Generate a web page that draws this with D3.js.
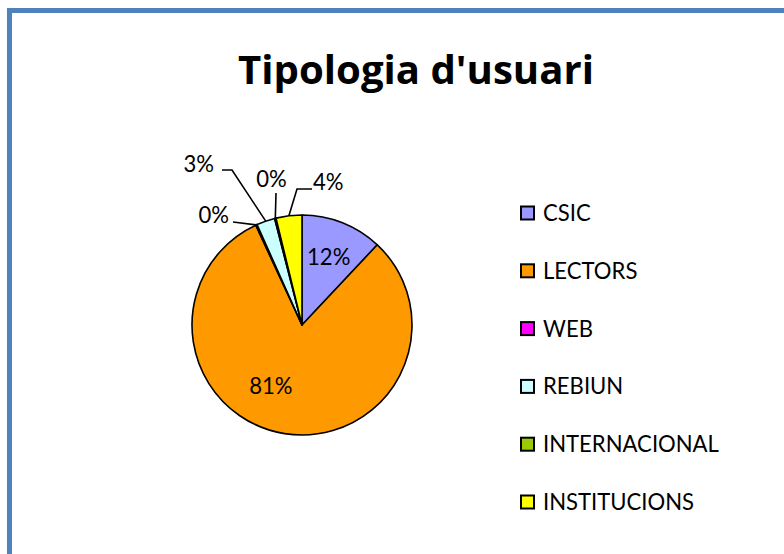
<!DOCTYPE html>
<html>
<head>
<meta charset="utf-8">
<script src="https://cdn.jsdelivr.net/npm/d3@7"></script>
<style>
  html, body { margin: 0; padding: 0; background: #fff; }
  svg { display: block; }
  text { font-family: Lato, "Open Sans", sans-serif; fill: #000; }
</style>
</head>
<body>
<svg id="chart" width="784" height="554"></svg>
<script>
// ---- data ----
const categories = ["CSIC", "LECTORS", "WEB", "REBIUN", "INTERNACIONAL", "INSTITUCIONS"];
const values = [12.0, 81.1, 0.2, 2.7, 0.2, 3.8];
const colors = ["#9999FF", "#FF9900", "#FF00FF", "#CCFFFF", "#99CC00", "#FFFF00"];
const title = "Tipologia d'usuari";

// ---- layout (positions of labels only) ----
const W = 784, H = 554;
const cx = 302, cy = 325, R = 110;
const labelLayout = [
  { type: "in", rf: 0.66, da: 0 },
  { type: "in", rf: 0.62, da: 18 },
  { type: "out", x: 229, y: 222.5, anchor: "end", elbow: [233, 222] },
  { type: "out", x: 214, y: 171.5, anchor: "end", elbow: [232, 170], tail: [222, 170] },
  { type: "out", x: 271.5, y: 186.5, anchor: "middle", elbow: [276, 193] },
  { type: "out", x: 313, y: 190, anchor: "start", elbow: [297, 189], tail: [312, 189] }
];

const svg = d3.select("#chart");

// frame
svg.append("rect")
  .attr("x", 9.5).attr("y", 10.5)
  .attr("width", W + 20).attr("height", H + 20)
  .attr("fill", "#fff")
  .attr("stroke", "#4F81BD")
  .attr("stroke-width", 5);

// helper: fit font size to a target width
function fit(sel, target) {
  const base = +sel.attr("font-size");
  const w = sel.node().getComputedTextLength();
  if (w > 0) sel.attr("font-size", base * target / w);
  return +sel.attr("font-size");
}

// title
const t = svg.append("text")
  .attr("x", 416).attr("y", 84)
  .attr("text-anchor", "middle")
  .attr("font-size", 40)
  .attr("font-weight", "bold")
  .style("font-family", "'Open Sans', Lato, sans-serif")
  .text(title);
fit(t, 356);

// legend font sizing from the longest label
const probe = svg.append("text").attr("font-size", 21).text("INTERNACIONAL");
const fs = fit(probe, 176);
probe.remove();

const pie = d3.pie().sort(null).value(d => d);
const arcs = pie(values);
const arc = d3.arc().innerRadius(0).outerRadius(R);

const g = svg.append("g").attr("transform", `translate(${cx},${cy})`);
g.selectAll("path.slice")
  .data(arcs)
  .join("path")
  .attr("class", "slice")
  .attr("d", arc)
  .attr("fill", (d, i) => colors[i])
  .attr("stroke", "#000")
  .attr("stroke-width", 1.6)
  .attr("stroke-linejoin", "round");

const fmt = v => Math.round(v) + "%";

arcs.forEach((d, i) => {
  const L = labelLayout[i];
  const mid = (d.startAngle + d.endAngle) / 2;
  if (L.type === "in") {
    const a = mid + L.da * Math.PI / 180;
    const r = R * L.rf;
    g.append("text")
      .attr("x", r * Math.sin(a))
      .attr("y", -r * Math.cos(a))
      .attr("dy", "0.36em")
      .attr("text-anchor", "middle")
      .attr("font-size", fs)
      .text(fmt(d.value));
  } else {
    const px = cx + R * Math.sin(mid), py = cy - R * Math.cos(mid);
    const pts = [[px, py], L.elbow];
    if (L.tail) pts.push(L.tail);
    svg.append("path")
      .attr("d", d3.line()(pts))
      .attr("fill", "none")
      .attr("stroke", "#000")
      .attr("stroke-width", 1.6);
    svg.append("text")
      .attr("x", L.x).attr("y", L.y)
      .attr("text-anchor", L.anchor)
      .attr("font-size", fs)
      .text(fmt(d.value));
  }
});

// legend
const legY = d3.scalePoint().domain(categories).range([213, 502]);
const leg = svg.append("g");
categories.forEach((c, i) => {
  leg.append("rect")
    .attr("x", 521).attr("y", legY(c) - 6.5)
    .attr("width", 13).attr("height", 13)
    .attr("fill", colors[i])
    .attr("stroke", "#000")
    .attr("stroke-width", 2);
  leg.append("text")
    .attr("x", 543).attr("y", legY(c))
    .attr("dy", "0.36em")
    .attr("font-size", fs)
    .text(c);
});
</script>
</body>
</html>
